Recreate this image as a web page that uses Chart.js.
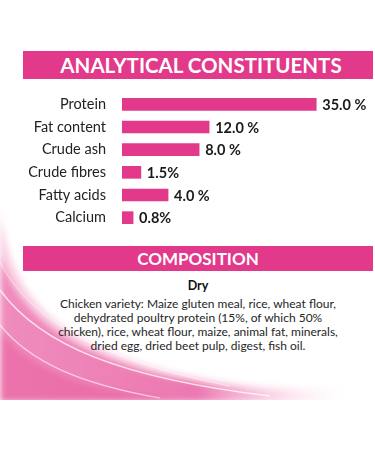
<!DOCTYPE html>
<html>
<head>
<meta charset="utf-8">
<script src="https://cdn.jsdelivr.net/npm/chart.js@4/dist/chart.umd.min.js"></script>
<style>
    html, body { margin: 0; padding: 0; background: #fff; }
    #page { position: relative; width: 375px; height: 450px; overflow: hidden; font-family: Lato, "Open Sans", sans-serif; }
    #swoosh { position: absolute; left: 0; top: 0; }
    .band { position: absolute; left: 23px; right: 2px; background: #e2398b; color: #fff; font-weight: bold; text-align: center; }
    #band1 { top: 51px; height: 28px; line-height: 29px; font-size: 20.5px; padding-left: 6px; box-sizing: border-box; }
    #band2 { top: 246px; height: 25px; line-height: 26px; font-size: 17px; }
    #chart { position: absolute; left: 0; top: 93px; }
    #composition { position: absolute; left: 23px; right: 2px; top: 279px; text-align: center; color: #262626; font-size: 12px; line-height: 14px; }
    #composition b { display: block; color: #111; font-size: 12.5px; margin-bottom: 4px; }
</style>
</head>
<body>
<div id="page">
    <svg id="swoosh" width="375" height="450" viewBox="0 0 375 450">
        <defs>
            <linearGradient id="g1" x1="0" y1="0" x2="1" y2="0">
                <stop offset="0" stop-color="#f08cbd"/>
                <stop offset="0.6" stop-color="#ec78b1"/>
                <stop offset="1" stop-color="#fbe3ef" stop-opacity="0"/>
            </linearGradient>
            <linearGradient id="g2" x1="0" y1="0" x2="1" y2="0">
                <stop offset="0" stop-color="#f9cde2"/>
                <stop offset="0.7" stop-color="#fde6f0"/>
                <stop offset="1" stop-color="#fde6f0" stop-opacity="0"/>
            </linearGradient>
            <filter id="blur"><feGaussianBlur stdDeviation="3"/></filter>
        </defs>
        <g filter="url(#blur)">
            <path d="M0,210 C10,300 60,340 160,368 C230,386 290,390 345,386 L345,402 L0,402 Z" fill="url(#g2)"/>
            <path d="M0,255 C20,320 80,355 170,376 C240,390 290,392 330,390 L330,402 L0,402 Z" fill="url(#g1)"/>
            <path d="M0,330 C30,370 90,392 180,400 L0,402 Z" fill="#e8629f" opacity="0.6"/>
        </g>
        <path d="M0,290 C40,345 120,378 270,396" stroke="#fff" stroke-width="1.5" fill="none" opacity="0.75"/>
        <path d="M0,325 C30,362 80,384 160,398" stroke="#fff" stroke-width="1.2" fill="none" opacity="0.6"/>
        <path d="M0,262 C30,320 100,360 230,386" stroke="#fff" stroke-width="1" fill="none" opacity="0.5"/>
        <rect x="0" y="400" width="375" height="50" fill="#fff"/>
    </svg>

    <div class="band" id="band1">ANALYTICAL CONSTITUENTS</div>
    <canvas id="chart" width="375" height="136"></canvas>
    <div class="band" id="band2">COMPOSITION</div>
    <div id="composition">
        <b>Dry</b>
        Chicken variety: Maize gluten meal, rice, wheat flour,<br>
        dehydrated poultry protein (15%, of which 50%<br>
        chicken), rice, wheat flour, maize, animal fat, minerals,<br>
        dried egg, dried beet pulp, digest, fish oil.
    </div>
</div>

<script>
// categories as printed
var categories = ['Protein', 'Fat content', 'Crude ash', 'Crude fibres', 'Fatty acids', 'Calcium'];
// the printed values
var valueLabels = ['35.0 %', '12.0 %', '8.0 %', '1.5%', '4.0 %', '0.8%'];
// bar lengths as drawn in the source (not to scale with the labels), in Protein = 35 units
var barValues = [35, 15.7, 13.9, 3.4, 8.3, 2.0];

var pink = '#e2398b';

var valueLabelPlugin = {
    id: 'valueLabels',
    afterDatasetsDraw: function (chart) {
        var ctx = chart.ctx;
        var meta = chart.getDatasetMeta(0);
        ctx.save();
        ctx.font = 'bold 14.5px Lato, "Open Sans", sans-serif';
        ctx.fillStyle = '#1a1a1a';
        ctx.textBaseline = 'middle';
        ctx.textAlign = 'left';
        meta.data.forEach(function (bar, i) {
            ctx.fillText(valueLabels[i], bar.x + 6, bar.y + 1);
        });
        ctx.restore();
    }
};

new Chart(document.getElementById('chart').getContext('2d'), {
    type: 'bar',
    data: {
        labels: categories,
        datasets: [{
            data: barValues,
            backgroundColor: pink,
            borderWidth: 0,
            barThickness: 12
        }]
    },
    options: {
        indexAxis: 'y',
        responsive: false,
        animation: false,
        layout: { padding: { left: 0, right: 31, top: 0, bottom: 0 } },
        plugins: {
            legend: { display: false },
            tooltip: { enabled: false }
        },
        scales: {
            x: { display: false, min: 0, max: 40 },
            y: {
                grid: { display: false },
                border: { display: false },
                afterFit: function (scale) {
                    // fixed label column, and no extra room above/below the rows
                    scale.width = 122;
                    scale.paddingTop = 0;
                    scale.paddingBottom = 0;
                },
                ticks: {
                    padding: 8,
                    color: '#222',
                    font: { family: 'Lato, "Open Sans", sans-serif', size: 14.5 }
                }
            }
        }
    },
    plugins: [valueLabelPlugin]
});
</script>
</body>
</html>
